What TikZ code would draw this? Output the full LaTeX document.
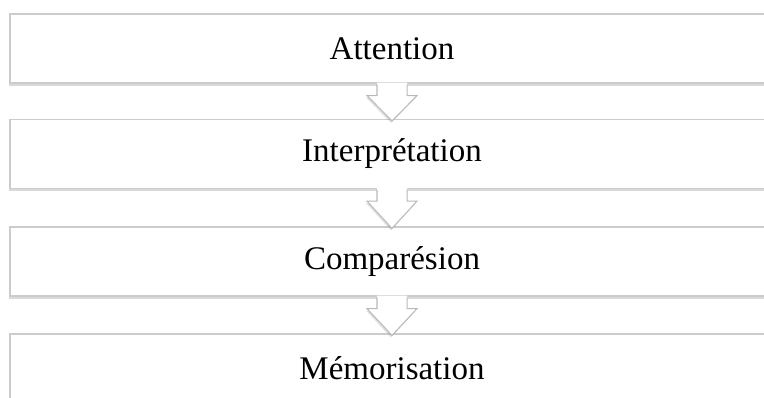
\documentclass[tikz,border=0pt]{standalone}
\usepackage{fontspec}
\setmainfont{Liberation Serif}
\usetikzlibrary{shadows, calc}

\begin{document}
\begin{tikzpicture}[x=1pt, y=-1pt]

\tikzset{stage/.style = {shape=rectangle, draw=gray!40, line width=1.2pt, fill=white, minimum width=764pt, minimum height=69pt, font=\fontsize{33}{40}\selectfont, drop shadow={shadow xshift=-1.5pt, shadow yshift=-3pt, opacity=.3}}}
\tikzset{flow/.style = {draw=gray!55, line width=1pt, line join=miter}}
\useasboundingbox (0,0) rectangle (764,398);
%stages
\node[stage] (1) at (392,48.5) {Attention};
\node[stage] (2) at (392,154) {Interprétation};
\node[stage] (3) at (392,261.5) {Comparésion};
\node[stage] (4) at (392,368.5) {Mémorisation};
%arrows
\foreach \a/\b in {1/2, 2/3, 3/4} {
  \fill[white, drop shadow={shadow xshift=-1pt, shadow yshift=-2pt, opacity=.25}] ($(\a.south)+(-15,-1)$) -- ($(\a.south)+(-15,12)$) -- ($(\a.south)+(-25,12)$) -- ($(\b.north)+(0,2)$) -- ($(\a.south)+(25,12)$) -- ($(\a.south)+(15,12)$) -- ($(\a.south)+(15,-1)$) -- cycle;
  \draw[flow] ($(\a.south)+(-15,1)$) -- ($(\a.south)+(-15,12)$) -- ($(\a.south)+(-25,12)$) -- ($(\b.north)+(0,2)$) -- ($(\a.south)+(25,12)$) -- ($(\a.south)+(15,12)$) -- ($(\a.south)+(15,1)$);
}

\end{tikzpicture}
\end{document}
